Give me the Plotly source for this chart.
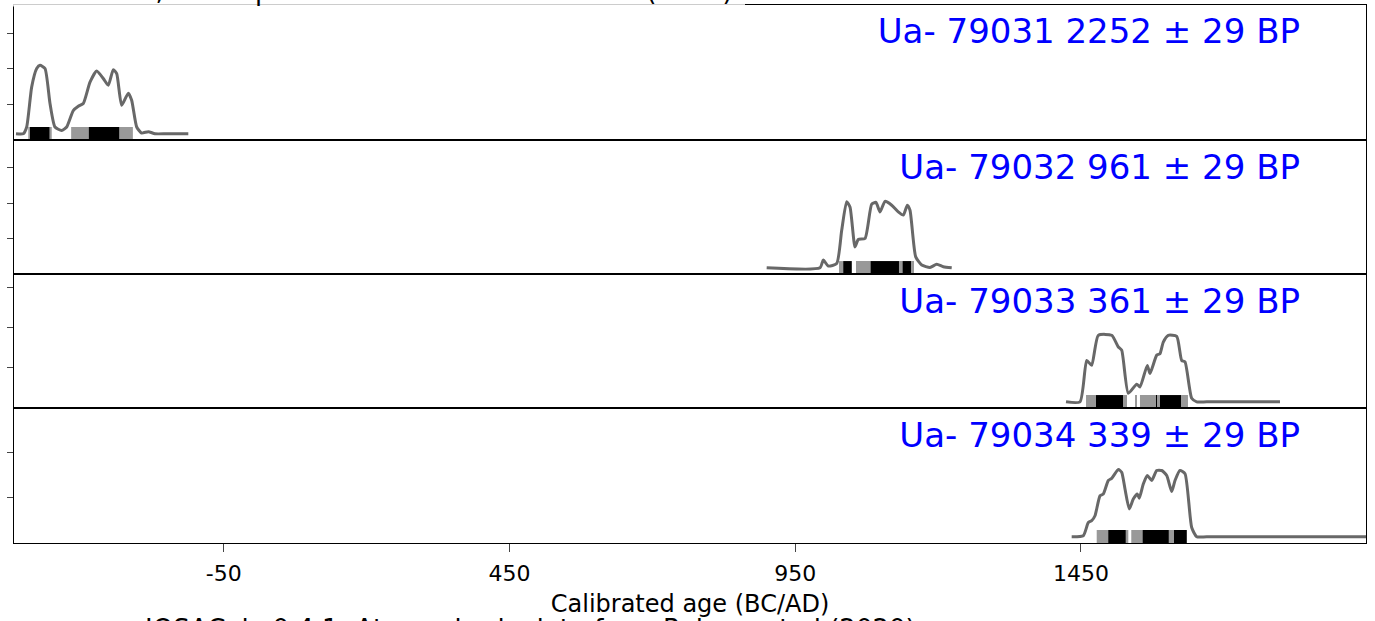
import plotly.graph_objects as go

# ---------------- data ----------------
X_TICKS = [-50, 450, 950, 1450]
X_TICK_LABELS = ["-50", "450", "950", "1450"]
X_TITLE = "Calibrated age (BC/AD)"
FOOTER = "IOSACal v0.4.1; Atmospheric data from Reimer et al (2020)"

LABELS = ["Ua- 79031 2252 ± 29 BP", "Ua- 79032 961 ± 29 BP",
          "Ua- 79033 361 ± 29 BP", "Ua- 79034 339 ± 29 BP"]

p1_age = [-413.5, -400.8, -394.8, -386.1, -377.3, -371.5, -362.8, -354.0, -345.3, -333.6,
          -324.8, -313.3, -304.5, -295.8, -284.0, -272.3, -260.8, -252.0, -243.3, -237.3,
          -228.6, -217.0, -211.1, -202.3, -193.6, -182.0, -170.3, -150.0, -112.0]
p1_prob = [0, 0, 0.19, 1.31, 1.83, 1.92, 1.83, 0.85, 0.19, 0.09,
           0.19, 0.65, 0.77, 0.85, 1.45, 1.76, 1.55, 1.36, 1.80, 1.69,
           0.80, 1.14, 0.94, 0.19, 0.02, 0.06, 0, 0, 0]
p1_r95 = [(-392, -351), (-317, -209)]
p1_r68 = [(-389, -355), (-286, -233)]

p2_age = [900, 993.3, 999.1, 1007.8, 1022.5, 1031.3, 1040, 1045.8, 1054.6, 1060.3,
          1072.1, 1083.8, 1091.3, 1098.3, 1107.1, 1118.8, 1130.3, 1139.1, 1146.1, 1150.8,
          1160.8, 1171.3, 1185.8, 1197.5, 1209.1, 1223.8]
p2_prob = [0, 0, 0.22, 0.05, 0.12, 1.06, 1.87, 1.72, 0.59, 0.80,
           0.83, 1.80, 1.85, 1.58, 1.88, 1.77, 1.58, 1.49, 1.77, 1.63,
           0.31, 0.08, 0.01, 0.10, 0.03, 0]
p2_r95 = [(1026.6, 1048.8), (1056.3, 1157.8)]
p2_r68 = [(1034.1, 1048.8), (1082.0, 1131.5), (1138.0, 1152.5)]

p3_age = [1423.8, 1448.3, 1460, 1468.7, 1480.3, 1503.7, 1515.3, 1521.2, 1532.8, 1547.5,
          1553.2, 1566, 1570.7, 1582.5, 1588.2, 1594, 1602.7, 1617.5, 1626.2, 1632,
          1643.7, 1652.5, 1670, 1798.2]
p3_prob = [0, 0, 1.17, 1.03, 1.88, 1.88, 1.55, 1.46, 0.24, 0.50,
           0.42, 1.03, 0.80, 1.32, 1.36, 1.69, 1.88, 1.85, 1.17, 1.13,
           0.10, 0, 0, 0]
p3_r95 = [(1458.8, 1530.5), (1545.4, 1548.0), (1553.2, 1637.2)]
p3_r68 = [(1476.3, 1523.5), (1581.3, 1583.0), (1588.2, 1625.0)]

p4_age = [1433.7, 1454, 1462.8, 1468.7, 1474.5, 1483.3, 1489, 1497.8, 1503.7, 1515.3,
          1521.2, 1527, 1534.5, 1541.5, 1548.5, 1552, 1559, 1566, 1573.7, 1582.5,
          1591.2, 1600, 1608.7, 1614.5, 1623.2, 1632, 1643.7, 1652.5, 1670, 1950]
p4_prob = [0, 0.03, 0.40, 0.45, 0.59, 1.15, 1.20, 1.58, 1.64, 1.89,
           1.81, 1.34, 0.78, 1.06, 1.20, 1.08, 1.48, 1.72, 1.58, 1.86,
           1.86, 1.72, 1.27, 1.58, 1.86, 1.77, 0.26, 0, 0, 0]
p4_r95 = [(1477.5, 1532.8), (1538.0, 1635.0)]
p4_r68 = [(1497.8, 1528.2), (1558.0, 1603.5), (1612.7, 1635.0)]

# y tick positions (unlabelled) for each panel
Y_TICKS = [[0.825, 1.825, 2.825], [0.825, 1.825, 2.825],
           [0.96, 2.095, 3.23], [1.09, 2.36]]

panels = [
    (p1_age, p1_prob, p1_r95, p1_r68),
    (p2_age, p2_prob, p2_r95, p2_r68),
    (p3_age, p3_prob, p3_r95, p3_r68),
    (p4_age, p4_prob, p4_r95, p4_r68),
]

# ---------------- layout geometry ----------------
W, H = 1375, 621
ML, MR, MT, MB = 14, 9, 5, 78
PW, PH = W - ML - MR, H - MT - MB
EDGES = [5, 140, 274, 408, 543]
X_RANGE = [-417, 1948.7]
Y_RANGE = [-0.175, 3.614]
BAR_BASE, BAR_TOP = -0.2, 0.19
FONT = "DejaVu Sans"


def pyp(y):
    return (H - MB - y) / PH


def pxp(x):
    return (x - ML) / PW


fig = go.Figure()
layout = dict(
    width=W, height=H,
    margin=dict(l=ML, r=MR, t=MT, b=MB, autoexpand=False),
    paper_bgcolor="white", plot_bgcolor="white",
    showlegend=False, barmode="overlay",
    font=dict(family=FONT, color="black"),
)

for i, (age, prob, r95, r68) in enumerate(panels):
    n = "" if i == 0 else str(i + 1)
    xa, ya = "x" + n, "y" + n
    fig.add_trace(go.Scatter(
        x=age, y=prob, mode="lines", xaxis=xa, yaxis=ya,
        line=dict(color="#686868", width=3, shape="spline", smoothing=0.55),
        hoverinfo="skip"))
    for ranges, col in ((r95, "#999999"), (r68, "#000000")):
        fig.add_trace(go.Bar(
            x=[(a + b) / 2 for a, b in ranges],
            width=[b - a for a, b in ranges],
            y=[BAR_TOP - BAR_BASE] * len(ranges), base=BAR_BASE,
            marker=dict(color=col, line=dict(width=0)),
            xaxis=xa, yaxis=ya, hoverinfo="skip"))
    bottom = i == 3
    layout["xaxis" + n] = dict(
        domain=[0, 1], anchor=ya, range=X_RANGE, automargin=False,
        showline=True, mirror=True, linecolor="black", linewidth=1.3,
        showgrid=False, zeroline=False,
        ticks="outside" if bottom else "", ticklen=8, tickwidth=1.3,
        tickvals=X_TICKS if bottom else [], ticktext=X_TICK_LABELS if bottom else [],
        showticklabels=bottom, tickfont=dict(size=22, family=FONT),
        ticklabelstandoff=2,
    )
    if bottom:
        layout["xaxis" + n]["title"] = dict(text=X_TITLE, font=dict(size=24, family=FONT),
                                            standoff=10)
    top, bot = EDGES[i], EDGES[i + 1]
    layout["yaxis" + n] = dict(
        domain=[pyp(bot), pyp(top)], anchor=xa, range=Y_RANGE, automargin=False,
        showline=True, mirror=True, linecolor="black", linewidth=1.3,
        showgrid=False, zeroline=False,
        ticks="outside", ticklen=6, tickwidth=1.3,
        tickvals=Y_TICKS[i], showticklabels=False,
    )

annotations = []
for i, lab in enumerate(LABELS):
    top = EDGES[i] + (0 if i == 0 else 1)
    annotations.append(dict(
        xref="paper", yref="paper", x=pxp(1306), y=pyp(top),
        xanchor="right", yanchor="top", text=lab, showarrow=False,
        font=dict(size=34, color="#0000ff", family=FONT),
        bgcolor="rgba(255,255,255,0.8)", borderpad=5, width=440, align="right"))

# clipped header at the very top and footer at the very bottom
annotations.append(dict(
    xref="paper", yref="paper", x=pxp(-39), y=pyp(7), xanchor="left", yanchor="bottom",
    text=FOOTER, showarrow=False, borderpad=0, font=dict(size=26, family=FONT, color="black")))
annotations.append(dict(
    xref="paper", yref="paper", x=pxp(144), y=pyp(613), xanchor="left", yanchor="top",
    text=FOOTER, showarrow=False, borderpad=0, font=dict(size=26, family=FONT, color="black")))
layout["annotations"] = annotations

layout["shapes"] = [dict(
    type="rect", xref="paper", yref="paper", x0=pxp(10), x1=pxp(745), y0=pyp(6.5), y1=pyp(-2),
    fillcolor="rgba(255,255,255,0.8)", line=dict(width=0), layer="above")]

fig.update_layout(**layout)
fig.write_html("out.html", config={"displayModeBar": False},
               post_script="document.body.style.margin='0';document.body.style.overflow='hidden';")
